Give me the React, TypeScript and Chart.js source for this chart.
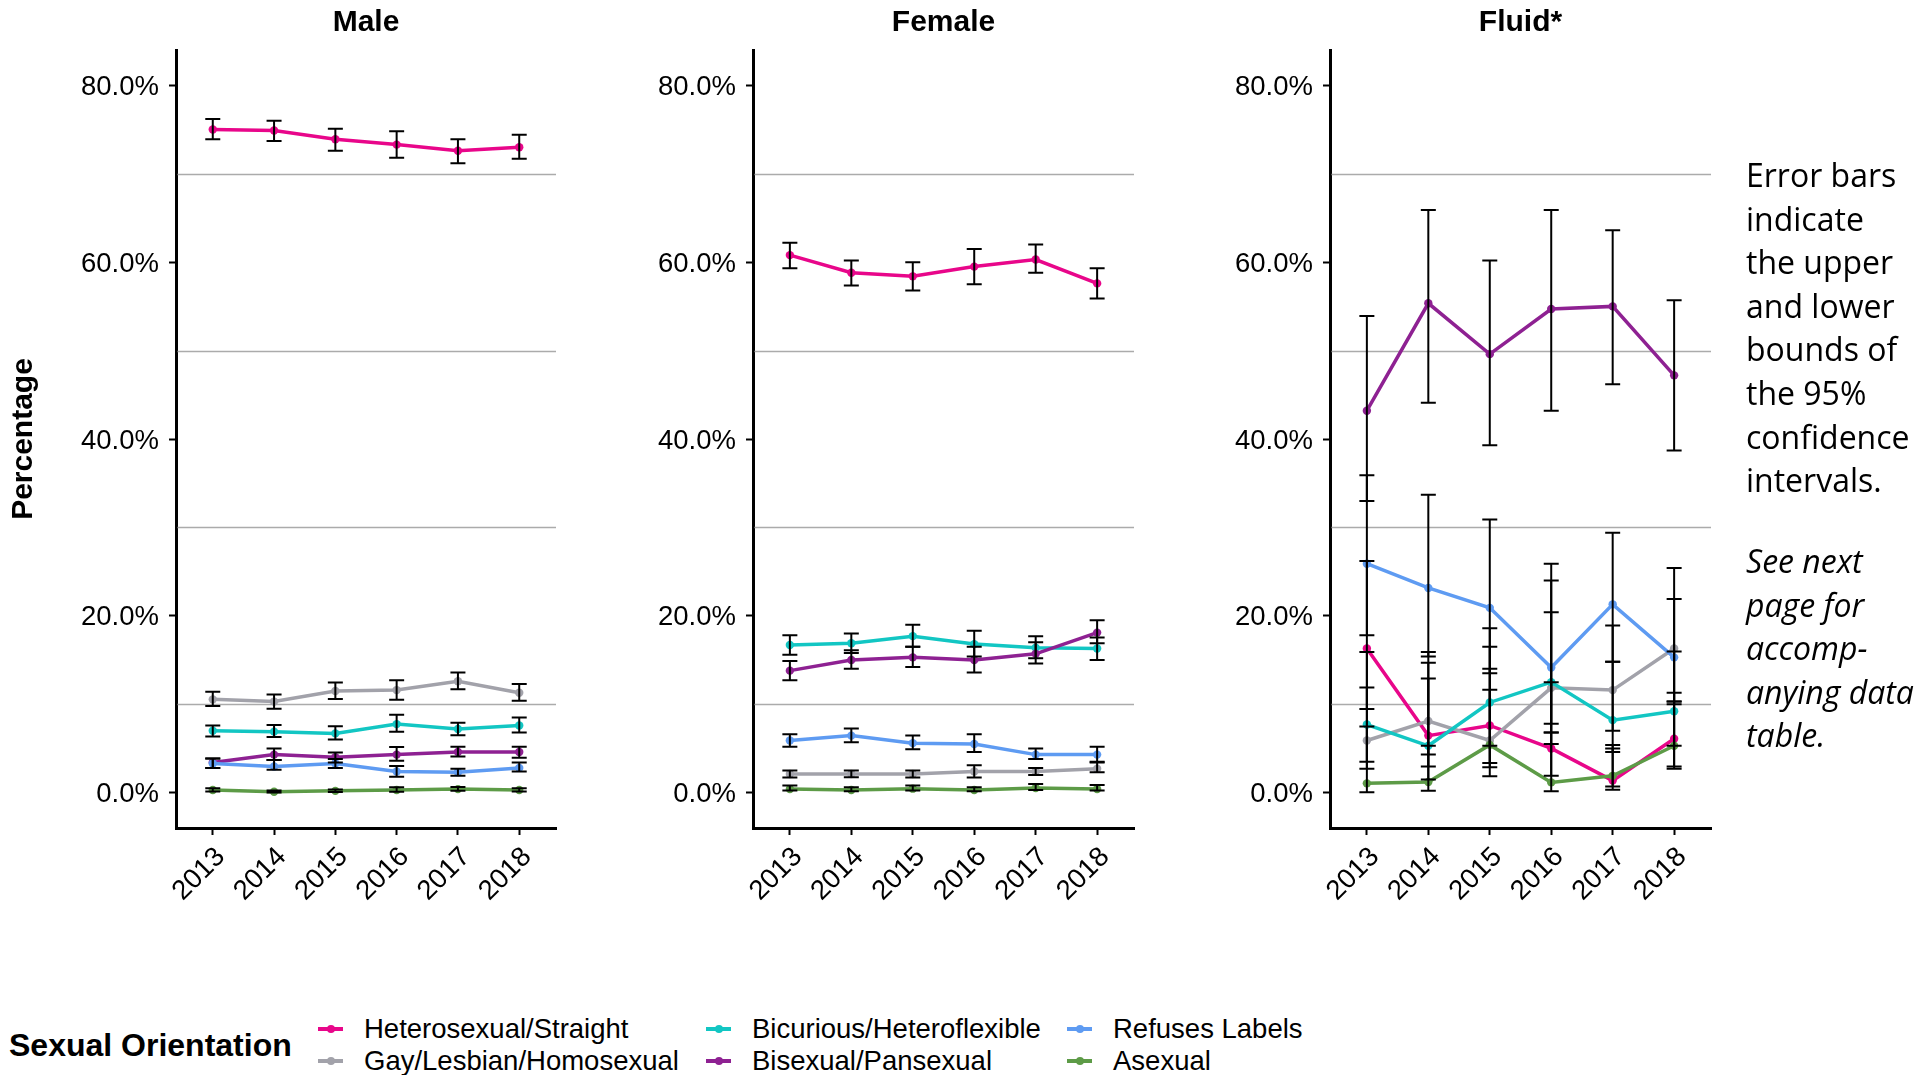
import React, { useEffect, useRef } from 'react';
import { Chart, registerables } from 'chart.js';

Chart.register(...registerables);

const YEARS = ['2013', '2014', '2015', '2016', '2017', '2018'];
const SERIES = [
  'Heterosexual/Straight',
  'Gay/Lesbian/Homosexual',
  'Bicurious/Heteroflexible',
  'Bisexual/Pansexual',
  'Refuses Labels',
  'Asexual',
];
const COLORS = ['#E8068A', '#A2A2AA', '#12C6C3', '#8E2192', '#5E9BF2', '#5D9B47'];
const Y_TICKS = [0, 20, 40, 60, 80];
const GRID_VALUES = [10, 30, 50, 70];

// Male: series order as SERIES
const MALE_MEAN = [
  [75.0, 74.9, 73.9, 73.3, 72.6, 73.0],
  [10.55, 10.3, 11.5, 11.6, 12.6, 11.3],
  [7.0, 6.9, 6.7, 7.75, 7.2, 7.6],
  [3.4, 4.3, 4.0, 4.3, 4.6, 4.6],
  [3.3, 2.96, 3.3, 2.4, 2.3, 2.8],
  [0.3, 0.1, 0.2, 0.3, 0.4, 0.3],
];
const MALE_LOW = [
  [73.9, 73.7, 72.6, 71.8, 71.2, 71.7],
  [9.8, 9.5, 10.6, 10.5, 11.7, 10.4],
  [6.35, 6.3, 6.0, 6.9, 6.5, 6.8],
  [2.8, 3.7, 3.4, 3.6, 4.1, 3.96],
  [2.8, 2.6, 2.8, 1.8, 1.9, 2.4],
  [0.12, 0.02, 0.08, 0.1, 0.2, 0.12],
];
const MALE_HIGH = [
  [76.2, 76.0, 75.1, 74.8, 73.9, 74.4],
  [11.4, 11.1, 12.45, 12.7, 13.6, 12.3],
  [7.6, 7.65, 7.5, 8.8, 7.9, 8.5],
  [3.86, 4.98, 4.55, 5.16, 5.2, 5.2],
  [3.86, 3.7, 3.8, 3.0, 2.7, 3.4],
  [0.5, 0.25, 0.35, 0.6, 0.65, 0.5],
];

const FEMALE_MEAN = [
  [60.8, 58.8, 58.4, 59.5, 60.3, 57.6],
  [2.1, 2.1, 2.1, 2.4, 2.4, 2.7],
  [16.7, 16.9, 17.7, 16.8, 16.4, 16.3],
  [13.8, 15.0, 15.3, 15.0, 15.7, 18.1],
  [5.9, 6.45, 5.6, 5.5, 4.3, 4.3],
  [0.4, 0.3, 0.45, 0.3, 0.53, 0.4],
];
const FEMALE_LOW = [
  [59.3, 57.35, 56.8, 57.5, 58.8, 55.9],
  [1.7, 1.75, 1.7, 1.7, 2.0, 2.3],
  [15.6, 15.8, 16.5, 15.4, 15.2, 15.0],
  [12.7, 14.0, 14.2, 13.6, 14.6, 16.9],
  [5.2, 5.7, 4.9, 4.6, 3.8, 3.5],
  [0.25, 0.15, 0.25, 0.15, 0.3, 0.25],
];
const FEMALE_HIGH = [
  [62.2, 60.2, 60.0, 61.5, 62.0, 59.3],
  [2.5, 2.5, 2.5, 3.1, 2.8, 3.4],
  [17.8, 18.0, 19.0, 18.3, 17.7, 17.55],
  [14.9, 16.1, 16.5, 16.5, 17.0, 19.5],
  [6.6, 7.25, 6.45, 6.6, 5.0, 5.2],
  [0.8, 0.6, 0.8, 0.6, 0.98, 0.85],
];

const FLUID_MEAN = [
  [16.3, 6.45, 7.6, 5.0, 1.36, 6.1],
  [5.9, 8.1, 5.9, 11.85, 11.6, 16.3],
  [7.7, 5.3, 10.2, 12.5, 8.2, 9.2],
  [43.2, 55.35, 49.6, 54.7, 55.0, 47.2],
  [25.9, 23.15, 20.9, 14.15, 21.3, 15.3],
  [1.05, 1.2, 5.4, 1.16, 1.9, 5.3],
];
const FLUID_LOW = [
  [9.45, 2.96, 3.36, 1.9, 0.34, 2.96],
  [2.7, 4.3, 2.86, 5.5, 7.0, 10.3],
  [3.5, 1.5, 5.3, 6.8, 4.6, 5.3],
  [33.0, 44.1, 39.3, 43.2, 46.2, 38.7],
  [17.8, 15.4, 13.5, 7.8, 14.8, 10.0],
  [0.03, 0.2, 1.84, 0.15, 0.68, 2.7],
];
const FLUID_HIGH = [
  [26.2, 14.7, 16.5, 12.5, 5.0, 11.3],
  [11.9, 15.9, 14.0, 20.4, 18.9, 25.4],
  [15.9, 12.9, 18.6, 24.0, 14.8, 15.95],
  [53.9, 65.9, 60.2, 65.9, 63.6, 55.7],
  [35.9, 33.7, 30.9, 25.9, 29.4, 21.9],
  [7.47, 5.3, 11.65, 6.8, 5.4, 10.3],
];

const SANS = '"Liberation Sans", Arial, sans-serif';
const CANVAS_H = 940;

const gridPlugin = {
  id: 'oddGrid',
  beforeDatasetsDraw(chart: any) {
    const { ctx, chartArea, scales } = chart;
    const y = scales.y;
    ctx.save();
    ctx.strokeStyle = '#ABABAB';
    ctx.lineWidth = 1.3;
    GRID_VALUES.forEach((v) => {
      const py = Math.round(y.getPixelForValue(v)) + 0.5;
      ctx.beginPath();
      ctx.moveTo(chartArea.left + 1.5, py);
      ctx.lineTo(chartArea.right, py);
      ctx.stroke();
    });
    ctx.restore();
  },
};

const errorBarPlugin = {
  id: 'errorBars',
  afterDatasetsDraw(chart: any) {
    const { ctx, scales } = chart;
    const x = scales.x;
    const y = scales.y;
    ctx.save();
    ctx.strokeStyle = '#000';
    ctx.lineWidth = 2;
    chart.data.datasets.forEach((ds: any) => {
      (ds.low as number[]).forEach((lo, i) => {
        const px = x.getPixelForValue(i);
        const yl = y.getPixelForValue(lo);
        const yh = y.getPixelForValue(ds.high[i]);
        ctx.beginPath();
        ctx.moveTo(px, yl);
        ctx.lineTo(px, yh);
        ctx.moveTo(px - 7.5, yl);
        ctx.lineTo(px + 7.5, yl);
        ctx.moveTo(px - 7.5, yh);
        ctx.lineTo(px + 7.5, yh);
        ctx.stroke();
      });
    });
    ctx.restore();
  },
};

type PanelProps = {
  title: string;
  left: number;
  width: number;
  yWidth: number;
  mean: number[][];
  low: number[][];
  high: number[][];
  showYTitle: boolean;
};

function Panel({ title, left, width, yWidth, mean, low, high, showYTitle }: PanelProps) {
  const ref = useRef<HTMLCanvasElement>(null);
  useEffect(() => {
    const chart = new Chart(ref.current as HTMLCanvasElement, {
      type: 'line',
      data: {
        datasets: SERIES.map((name, s) => ({
          label: name,
          data: mean[s].map((v, i) => ({ x: i, y: v })),
          low: low[s],
          high: high[s],
          borderColor: COLORS[s],
          backgroundColor: COLORS[s],
          pointBackgroundColor: COLORS[s],
          pointBorderColor: COLORS[s],
          borderWidth: 3.5,
          pointRadius: 4.2,
          pointBorderWidth: 0,
          tension: 0,
          order: SERIES.length - 1 - s,
        })) as any,
      },
      options: {
        responsive: false,
        animation: false,
        events: [],
        layout: { padding: { left: 0, right: yWidth, top: 0, bottom: 0 } },
        plugins: {
          legend: { display: false },
          tooltip: { enabled: false },
          title: {
            display: true,
            fullSize: false,
            text: title,
            color: '#000',
            font: { family: SANS, size: 30, weight: 'bold', lineHeight: 1 },
            padding: { top: 7.5, bottom: 12.5 },
          },
        },
        scales: {
          x: {
            type: 'linear',
            min: -0.6,
            max: 5.6,
            afterBuildTicks: (s: any) => {
              s.ticks = YEARS.map((_, i) => ({ value: i }));
            },
            afterFit: (s: any) => {
              s.height = CANVAS_H - 828;
            },
            ticks: {
              autoSkip: false,
              minRotation: 45,
              maxRotation: 45,
              padding: 6,
              labelOffset: 8,
              color: '#000',
              font: { family: SANS, size: 27.5 },
              callback: (v: any) => YEARS[Number(v)] ?? '',
            },
            grid: {
              drawOnChartArea: false,
              drawTicks: true,
              tickLength: 7,
              tickWidth: 2,
              tickColor: '#000',
            },
            border: { display: true, color: '#000', width: 3 },
          },
          y: {
            type: 'linear',
            min: -4,
            max: 84,
            afterBuildTicks: (s: any) => {
              s.ticks = Y_TICKS.map((v) => ({ value: v }));
            },
            afterFit: (s: any) => {
              s.width = yWidth;
            },
            ticks: {
              padding: 10,
              labelOffset: 2,
              color: '#000',
              font: { family: SANS, size: 27.5 },
              callback: (v: any) => Number(v).toFixed(1) + '%',
            },
            grid: {
              drawOnChartArea: false,
              drawTicks: true,
              tickLength: 7,
              tickWidth: 2,
              tickColor: '#000',
            },
            border: { display: true, color: '#000', width: 3 },
            title: {
              display: showYTitle,
              text: 'Percentage',
              color: '#000',
              font: { family: SANS, size: 30, weight: 'bold' },
              padding: { top: 6, bottom: 0 },
            },
          },
        },
      } as any,
      plugins: [gridPlugin, errorBarPlugin],
    });
    return () => chart.destroy();
  }, []);
  return (
    <canvas
      ref={ref}
      width={width}
      height={CANVAS_H}
      style={{ position: 'absolute', left, top: 0, width, height: CANVAS_H }}
    />
  );
}

const LEGEND_COLS = [318, 706, 1067];
const LEGEND_ROWS = [1029, 1061];

function Legend() {
  return (
    <>
      <div
        style={{
          position: 'absolute',
          left: 9,
          top: 1045 - 19,
          font: `bold 32px ${SANS}`,
          lineHeight: '38px',
          color: '#000',
          whiteSpace: 'nowrap',
        }}
      >
        Sexual Orientation
      </div>
      {SERIES.map((name, s) => {
        const col = Math.floor(s / 2);
        const row = s % 2;
        const kx = LEGEND_COLS[col];
        const ky = LEGEND_ROWS[row];
        return (
          <React.Fragment key={name}>
            <div
              style={{
                position: 'absolute',
                left: kx,
                top: ky - 1.7,
                width: 25,
                height: 3.4,
                background: COLORS[s],
              }}
            />
            <div
              style={{
                position: 'absolute',
                left: kx + 12.5 - 4,
                top: ky - 4,
                width: 8,
                height: 8,
                borderRadius: '50%',
                background: COLORS[s],
              }}
            />
            <div
              style={{
                position: 'absolute',
                left: kx + 46,
                top: ky - 16,
                font: `27.5px ${SANS}`,
                lineHeight: '32px',
                color: '#000',
                whiteSpace: 'nowrap',
              }}
            >
              {name}
            </div>
          </React.Fragment>
        );
      })}
    </>
  );
}

function Note() {
  const base: React.CSSProperties = {
    position: 'absolute',
    left: 1746,
    font: `32px "Open Sans", ${SANS}`,
    lineHeight: '43.6px',
    color: '#000',
    whiteSpace: 'nowrap',
  };
  return (
    <>
      <div style={{ ...base, top: 153 }}>
        Error bars<br />indicate<br />the upper<br />and lower<br />bounds of<br />the 95%<br />confidence<br />intervals.
      </div>
      <div style={{ ...base, top: 539, fontStyle: 'italic' }}>
        See next<br />page for<br />accomp-<br />anying data<br />table.
      </div>
    </>
  );
}

export default function App() {
  return (
    <div
      style={{
        position: 'fixed',
        left: 0,
        top: 0,
        width: 1932,
        height: 1075,
        background: '#fff',
        overflow: 'hidden',
      }}
    >
      <Panel title="Male" left={0} width={732} yWidth={176} mean={MALE_MEAN} low={MALE_LOW} high={MALE_HIGH} showYTitle={true} />
      <Panel title="Female" left={600} width={687} yWidth={153} mean={FEMALE_MEAN} low={FEMALE_LOW} high={FEMALE_HIGH} showYTitle={false} />
      <Panel title="Fluid*" left={1180} width={681} yWidth={150} mean={FLUID_MEAN} low={FLUID_LOW} high={FLUID_HIGH} showYTitle={false} />
      <Legend />
      <Note />
    </div>
  );
}
